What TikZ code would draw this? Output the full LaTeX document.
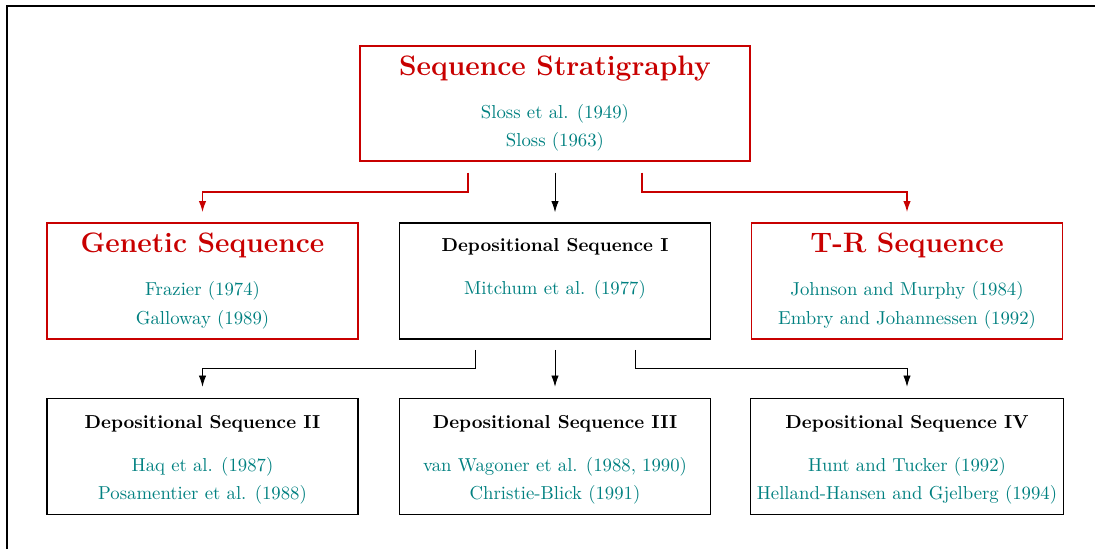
\documentclass[tikz,border=0pt]{standalone}
\usetikzlibrary{arrows.meta}

\definecolor{seqred}{RGB}{200,0,0}
\colorlet{refcol}{teal}
\newcommand{\bigtitle}{\fontsize{15}{18}\selectfont\bfseries}

\tikzset{
  seqbox/.style={draw, line width=0.8pt, minimum width=5.83cm, minimum height=2.175cm, align=center},
  redbox/.style={seqbox, draw=seqred},
  redlink/.style={draw=seqred, line width=0.9pt, -{Latex[length=6pt,width=4pt]}},
  blacklink/.style={line width=0.5pt, -{Latex[length=6pt,width=4pt]}},
}

\begin{document}
\begin{tikzpicture}[x=0.01875cm, y=-0.01875cm]
\useasboundingbox (0,0) rectangle (1095,549);
\draw[line width=1.1pt] (7,549) -- (7,6) -- (1095,6);

% top
\node[redbox, minimum width=7.31cm, minimum height=2.156cm] (strat) at (555,103.5)
  {{\bigtitle\color{seqred} Sequence Stratigraphy}\\[11pt]
   \color{refcol}Sloss et al. (1949)\\[3.2pt]\color{refcol}Sloss (1963)};

% second row
\node[redbox] (genetic) at (202.5,281)
  {{\bigtitle\color{seqred} Genetic Sequence}\\[11pt]
   \color{refcol}Frazier (1974)\\[3.2pt]\color{refcol}Galloway (1989)};
\node[seqbox] (dep1) at (555,281)
  {\vphantom{\bigtitle S}\textbf{Depositional Sequence I}\\[11pt]
   \color{refcol}Mitchum et al. (1977)\\[3.2pt]\strut};
\node[redbox] (tr) at (907,281)
  {{\bigtitle\color{seqred} T-R Sequence}\\[11pt]
   \color{refcol}Johnson and Murphy (1984)\\[3.2pt]\color{refcol}Embry and Johannessen (1992)};

% third row
\node[seqbox] (dep2) at (202.5,456.5)
  {\vphantom{\bigtitle S}\textbf{Depositional Sequence II}\\[11pt]
   \color{refcol}Haq et al. (1987)\\[3.2pt]\color{refcol}Posamentier et al. (1988)};
\node[seqbox] (dep3) at (555,456.5)
  {\vphantom{\bigtitle S}\textbf{Depositional Sequence III}\\[11pt]
   \color{refcol}van Wagoner et al. (1988, 1990)\\[3.2pt]\color{refcol}Christie-Blick (1991)};
\node[seqbox] (dep4) at (907,456.5)
  {\vphantom{\bigtitle S}\textbf{Depositional Sequence IV}\\[11pt]
   \color{refcol}Hunt and Tucker (1992)\\[3.2pt]\color{refcol}Helland-Hansen and Gjelberg (1994)};

% links
\draw[redlink] ([shift={(-87,11)}]strat.south) -- ++(0,19) -| ([shift={(0,-10)}]genetic.north);
\draw[blacklink] ([shift={(0,11)}]strat.south) -- ([shift={(0,-10)}]dep1.north);
\draw[redlink] ([shift={(87,11)}]strat.south) -- ++(0,19) -| ([shift={(0,-10)}]tr.north);

\draw[blacklink] ([shift={(-80,10)}]dep1.south) -- ++(0,19) -| ([shift={(0,-11)}]dep2.north);
\draw[blacklink] ([shift={(0,10)}]dep1.south) -- ([shift={(0,-11)}]dep3.north);
\draw[blacklink] ([shift={(80,10)}]dep1.south) -- ++(0,19) -| ([shift={(0,-11)}]dep4.north);
\end{tikzpicture}
\end{document}
